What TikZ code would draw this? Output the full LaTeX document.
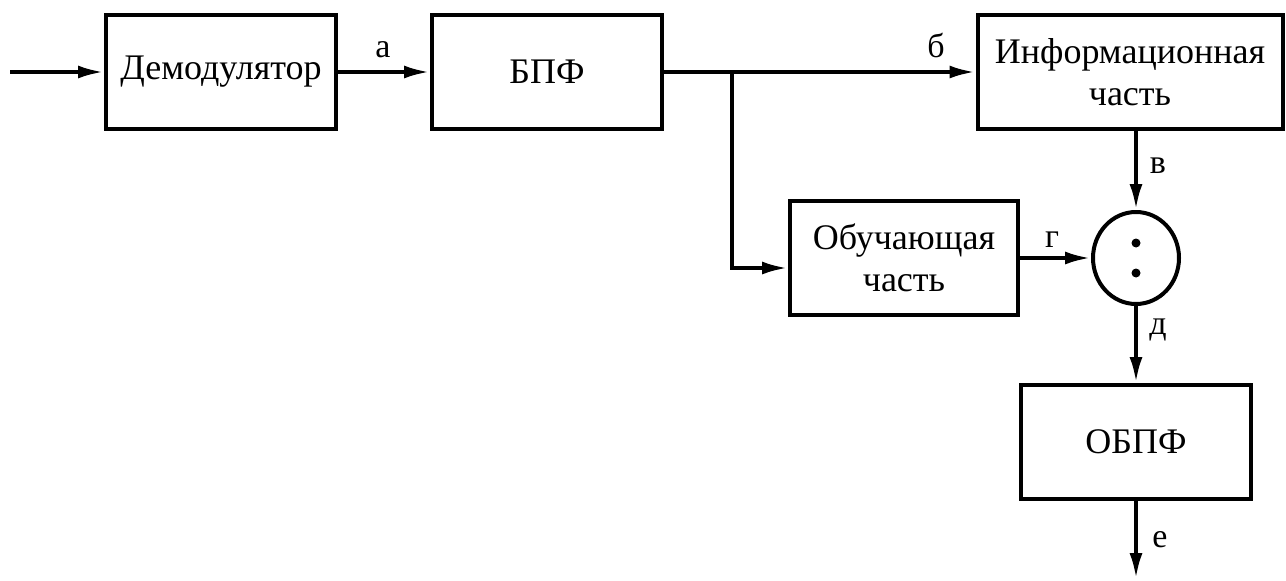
\documentclass[tikz,border=0pt]{standalone}
\usepackage{fontspec}
\setmainfont{Liberation Serif}
\usetikzlibrary{arrows.meta,shapes.geometric}
\begin{document}
\begin{tikzpicture}[x=1pt,y=-1pt,
  blk/.style={draw,line width=4pt,rectangle,inner sep=0pt,font=\fontsize{36}{42}\selectfont,align=center},
  conn/.style={line width=4pt,-{Latex[length=26pt,width=13pt]}},
  lbl/.style={font=\fontsize{34}{40}\selectfont,inner sep=0pt}]
\useasboundingbox (0,0) rectangle (1286,581);
\node[blk,minimum width=230pt,minimum height=114pt] (dem) at (221,72) {Демодулятор};
\node[blk,minimum width=230pt,minimum height=114pt] (fft) at (547,72) {БПФ};
\node[blk,minimum width=305pt,minimum height=114pt] (inf) at (1130,72) {Информационная\\часть};
\node[blk,minimum width=228pt,minimum height=114pt] (obu) at (904,258) {Обучающая\\часть};
\node[draw,line width=4pt,ellipse,minimum width=86pt,minimum height=92pt,inner sep=0pt] (div) at (1136,258) {};
\node[blk,minimum width=230pt,minimum height=114pt] (ifft) at (1136,442) {ОБПФ};
\fill (1136,243) circle (4.5pt);
\fill (1136,273) circle (4.5pt);
\coordinate (in) at (10,72);
\coordinate (br) at (732,72);
\coordinate (brd) at (732,268);
\coordinate (out) at (1136,579);
\draw[conn] (in) -- (dem.west);
\draw[conn] (dem.east) -- (fft.west);
\draw[conn] (fft.east) -- (inf.west);
\draw[conn] (br) -- (brd) -- (obu.west |- brd);
\draw[conn] (obu.east |- div.west) -- (div.west);
\draw[conn] (div.north |- inf.south) -- (div.north);
\draw[conn] (div.south) -- (ifft.north);
\draw[conn] (ifft.south) -- (out);
\node[lbl] at (383,50) {а};
\node[lbl] at (936,45) {б};
\node[lbl] at (1158,166) {в};
\node[lbl] at (1052,240) {г};
\node[lbl] at (1158,330) {д};
\node[lbl] at (1160,540) {е};
\end{tikzpicture}
\end{document}
